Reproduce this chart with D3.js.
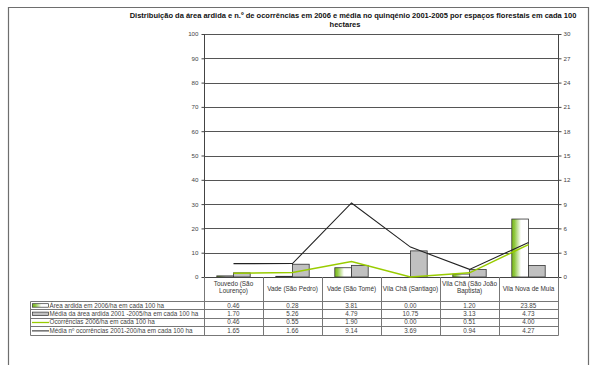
<!DOCTYPE html>
<html>
<head>
<meta charset="utf-8">
<script src="https://cdn.jsdelivr.net/npm/d3@7"></script>
<style>
  html, body { margin: 0; padding: 0; background: #fff; }
  svg { display: block; font-family: "Liberation Sans", Arial, sans-serif; }
</style>
</head>
<body>
<svg id="chart" width="592" height="365"></svg>
<script>
// Espaços florestais
const categories = [
  ["Touvedo (São", "Lourenço)"],
  ["Vade (São Pedro)"],
  ["Vade (São Tomé)"],
  ["Vila Chã (Santiago)"],
  ["Vila Chã (São João", "Baptista)"],
  ["Vila Nova de Muia"]
];
const areaArdida2006 = [0.46, 0.28, 3.81, 0.00, 1.20, 23.85];
const mediaAreaArdida = [1.70, 5.26, 4.79, 10.75, 3.13, 4.73];
const ocorrencias2006 = [0.46, 0.55, 1.90, 0.00, 0.51, 4.00];
const mediaOcorrencias = [1.65, 1.66, 9.14, 3.69, 0.94, 4.27];

const leftTicks = [0, 10, 20, 30, 40, 50, 60, 70, 80, 90, 100];
const rightTicks = [0, 3, 6, 9, 12, 15, 18, 21, 24, 27, 30];

const seriesNames = [
  "Área ardida em 2006/ha em cada 100 ha",
  "Média da área ardida 2001 -2005/ha em cada 100 ha",
  "Ocorrências 2006/ha em cada 100 ha",
  "Média nº ocorrências 2001-200/ha em cada 100 ha"
];
const titleLines = [
  "Distribuição da área ardida e n.º de ocorrências em 2006 e média no quinqénio 2001-2005 por espaços florestais em cada 100",
  "hectares"
];

const svg = d3.select("#chart");

// plot area
const plotL = 204, plotR = 558, plotT = 34, plotB = 277;
const catKeys = categories.map(c => c.join(" "));

const x = d3.scaleBand().domain(catKeys).range([plotL, plotR]).padding(0);
const bw = x.bandwidth();
const xBar = d3.scaleBand().domain(["a", "m"]).range([bw * 0.217, bw * 0.783]).padding(0);
const yL = d3.scaleLinear().domain([0, 100]).range([plotB, plotT]);
const yR = d3.scaleLinear().domain([0, 30]).range([plotB, plotT]);

// gradient fill for the 2006 burned area bars
const defs = svg.append("defs");
const grad = defs.append("linearGradient").attr("id", "gGreen")
  .attr("x1", "0%").attr("x2", "100%").attr("y1", "0%").attr("y2", "0%");
grad.append("stop").attr("offset", "0%").attr("stop-color", "#7cbb1c");
grad.append("stop").attr("offset", "15%").attr("stop-color", "#8cc63a");
grad.append("stop").attr("offset", "55%").attr("stop-color", "#ffffff");
grad.append("stop").attr("offset", "100%").attr("stop-color", "#ffffff");

// outer frame
svg.append("path")
  .attr("d", `M8.5,366 V7.5 H588.5 V366`)
  .attr("fill", "none").attr("stroke", "#6e6e6e").attr("stroke-width", 1.2);

// title
const title = svg.append("text").attr("font-weight", "bold").attr("font-size", 7.5)
  .attr("fill", "#111").attr("text-anchor", "middle");
title.append("tspan").attr("x", 353).attr("y", 17.5).text(titleLines[0]);
title.append("tspan").attr("x", 345).attr("y", 26.5).text(titleLines[1]);

// gridlines
svg.append("g").selectAll("line").data(leftTicks.filter(t => t > 0)).join("line")
  .attr("x1", plotL).attr("x2", plotR)
  .attr("y1", d => Math.round(yL(d)) + 0.5).attr("y2", d => Math.round(yL(d)) + 0.5)
  .attr("stroke", "#555").attr("stroke-width", 1);

// left axis
const axL = svg.append("g").attr("transform", `translate(${plotL + 0.5},0)`)
  .call(d3.axisLeft(yL).tickValues(leftTicks).tickSize(3).tickPadding(3));
axL.select(".domain").attr("stroke", "#444").attr("d", `M0,${plotT}V301`);
axL.selectAll(".tick line").attr("stroke", "#444");
axL.selectAll(".tick text").attr("font-size", 6.2).attr("fill", "#444")
  .attr("font-family", "Liberation Sans, Arial, sans-serif");

// right axis
const axR = svg.append("g").attr("transform", `translate(${plotR + 0.5},0)`)
  .call(d3.axisRight(yR).tickValues(rightTicks).tickSize(3).tickPadding(2));
axR.select(".domain").attr("stroke", "#444").attr("d", `M0,${plotT}V${plotB}`);
axR.selectAll(".tick line").attr("stroke", "#444");
axR.selectAll(".tick text").attr("font-size", 6.2).attr("fill", "#444")
  .attr("font-family", "Liberation Sans, Arial, sans-serif");

// bars
const barData = [];
catKeys.forEach((k, i) => {
  barData.push({ k, s: "a", v: areaArdida2006[i] });
  barData.push({ k, s: "m", v: mediaAreaArdida[i] });
});
svg.append("g").selectAll("rect").data(barData).join("rect")
  .attr("x", d => x(d.k) + xBar(d.s))
  .attr("y", d => yL(d.v))
  .attr("width", xBar.bandwidth())
  .attr("height", d => yL(0) - yL(d.v))
  .attr("fill", d => d.s === "a" ? "url(#gGreen)" : "#c0c0c0")
  .attr("stroke", "#333").attr("stroke-width", 0.8);

// baseline
svg.append("line").attr("x1", plotL).attr("x2", plotR)
  .attr("y1", plotB + 0.5).attr("y2", plotB + 0.5).attr("stroke", "#444");

// lines on the secondary axis
const line = d3.line().x((d, i) => x(catKeys[i]) + bw / 2).y(d => yR(d));
svg.append("path").datum(ocorrencias2006).attr("d", line)
  .attr("fill", "none").attr("stroke", "#99cc00").attr("stroke-width", 1.5);
svg.append("path").datum(mediaOcorrencias).attr("d", line)
  .attr("fill", "none").attr("stroke", "#222").attr("stroke-width", 1.1);

// data table
const tLeft = 30.5;
const rowY = [301, 309.4, 317.8, 326.2, 334.6];
const tbl = svg.append("g");
const lineColor = "#777";

// column separators
tbl.selectAll("line.hdr").data(catKeys.slice(1).concat(["_end"])).join("line")
  .attr("class", "hdr")
  .attr("x1", d => d === "_end" ? plotR + 0.5 : Math.round(x(d)) + 0.5)
  .attr("x2", d => d === "_end" ? plotR + 0.5 : Math.round(x(d)) + 0.5)
  .attr("y1", plotB).attr("y2", Math.round(rowY[4]) + 0.5)
  .attr("stroke", lineColor).attr("stroke-width", 1);
// horizontal rows
tbl.selectAll("line.row").data(rowY).join("line").attr("class", "row")
  .attr("x1", tLeft).attr("x2", plotR + 0.5)
  .attr("y1", d => Math.round(d) + 0.5).attr("y2", d => Math.round(d) + 0.5)
  .attr("stroke", lineColor).attr("stroke-width", 1);
tbl.append("line").attr("x1", tLeft).attr("x2", tLeft)
  .attr("y1", Math.round(rowY[0]) + 0.5).attr("y2", Math.round(rowY[4]) + 0.5)
  .attr("stroke", lineColor);
tbl.append("line").attr("x1", plotL + 0.5).attr("x2", plotL + 0.5)
  .attr("y1", plotB).attr("y2", Math.round(rowY[4]) + 0.5)
  .attr("stroke", lineColor);

// category header labels
categories.forEach((c, i) => {
  const cx = x(catKeys[i]) + bw / 2;
  const t = tbl.append("text").attr("text-anchor", "middle").attr("font-size", 6.4).attr("fill", "#333");
  if (c.length === 1) {
    t.append("tspan").attr("x", cx).attr("y", 291).text(c[0]);
  } else {
    t.append("tspan").attr("x", cx).attr("y", 285.7).text(c[0]);
    t.append("tspan").attr("x", cx).attr("y", 292.7).text(c[1]);
  }
});

// values and legend keys
const rows = [areaArdida2006, mediaAreaArdida, ocorrencias2006, mediaOcorrencias];
rows.forEach((vals, r) => {
  const yb = (rowY[r] + rowY[r + 1]) / 2 + 2.4;
  tbl.append("g").selectAll("text").data(vals).join("text")
    .attr("x", (d, i) => x(catKeys[i]) + bw / 2)
    .attr("y", yb)
    .attr("text-anchor", "middle").attr("font-size", 6.3).attr("fill", "#444")
    .text(d => d.toFixed(2));
  const ym = (rowY[r] + rowY[r + 1]) / 2 + 0.5;
  if (r < 2) {
    tbl.append("rect").attr("x", 32.5).attr("y", ym - 2).attr("width", 16).attr("height", 3.5)
      .attr("fill", r === 0 ? "url(#gGreen)" : "#c0c0c0")
      .attr("stroke", "#333").attr("stroke-width", 0.7);
  } else {
    tbl.append("line").attr("x1", 32).attr("x2", 49).attr("y1", ym).attr("y2", ym)
      .attr("stroke", r === 2 ? "#99cc00" : "#222").attr("stroke-width", r === 2 ? 1.3 : 1);
  }
  tbl.append("text").attr("x", 49.5).attr("y", yb).attr("font-size", 6.3).attr("fill", "#444")
    .text(seriesNames[r]);
});
</script>
</body>
</html>
